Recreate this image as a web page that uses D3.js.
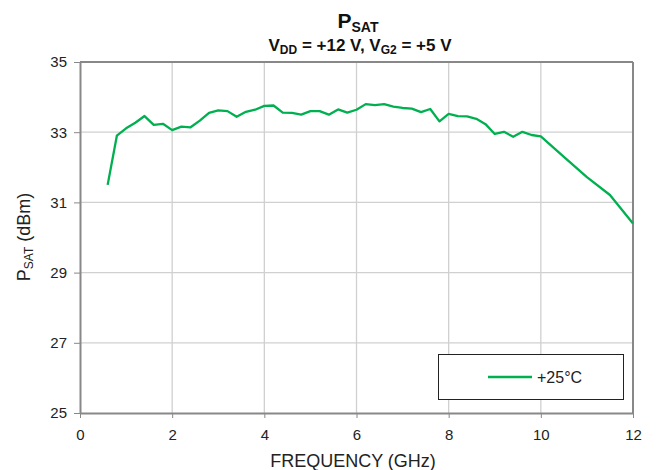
<!DOCTYPE html>
<html><head><meta charset="utf-8">
<script src="https://cdn.jsdelivr.net/npm/d3@7"></script>
<style>body{margin:0;background:#fff;}svg{display:block;font-family:Arial,"Liberation Sans",sans-serif;}</style>
</head><body><svg id="c" width="657" height="470"></svg>
<script>
const freq = [0.6,0.8,1.0,1.2,1.4,1.6,1.8,2.0,2.2,2.4,2.6,2.8,3.0,3.2,3.4,3.6,3.8,4.0,4.2,4.4,4.6,4.8,5.0,5.2,5.4,5.6,5.8,6.0,6.2,6.4,6.6,6.8,7.0,7.2,7.4,7.6,7.8,8.0,8.2,8.4,8.6,8.8,9.0,9.2,9.4,9.6,9.8,10.0,10.5,11.0,11.5,12.0];
const psat = [31.5,32.9,33.11,33.27,33.46,33.21,33.24,33.06,33.16,33.14,33.33,33.55,33.62,33.60,33.44,33.58,33.64,33.75,33.76,33.56,33.55,33.50,33.60,33.60,33.50,33.65,33.56,33.64,33.80,33.77,33.80,33.73,33.69,33.67,33.57,33.66,33.31,33.52,33.46,33.45,33.38,33.23,32.95,33.01,32.87,33.01,32.92,32.88,32.30,31.72,31.21,30.40];
const xTicks = [0,2,4,6,8,10,12];
const yTicks = [25,27,29,31,33,35];
const seriesName = "+25°C";

const svg = d3.select("#c");
const m = {l:80, r:633, t:62, b:413};
const x = d3.scaleLinear().domain([0,12]).range([m.l, m.r]);
const y = d3.scaleLinear().domain([25,35]).range([m.b, m.t]);

// grid
svg.append("g").selectAll("line").data(xTicks.slice(1,-1)).join("line")
  .attr("x1",d=>x(d)).attr("x2",d=>x(d)).attr("y1",m.t).attr("y2",m.b)
  .attr("stroke","#d0d0d0").attr("stroke-width",1.3);
svg.append("g").selectAll("line").data(yTicks.slice(1,-1)).join("line")
  .attr("y1",d=>y(d)).attr("y2",d=>y(d)).attr("x1",m.l).attr("x2",m.r)
  .attr("stroke","#d0d0d0").attr("stroke-width",1.3);

// axes
const xa = svg.append("g").attr("transform",`translate(0,${m.b})`)
  .call(d3.axisBottom(x).tickValues(xTicks).tickSize(5).tickSizeOuter(0).tickPadding(11));
const ya = svg.append("g").attr("transform",`translate(${m.l},0)`)
  .call(d3.axisLeft(y).tickValues(yTicks).tickSize(6).tickSizeOuter(0).tickPadding(7));
[xa,ya].forEach(a=>{
  a.selectAll("path").attr("stroke","#888").attr("stroke-width",2);
  a.selectAll("line").attr("stroke","#888").attr("stroke-width",1);
  a.selectAll("text").attr("font-size",15).attr("fill","#222").attr("font-family","Arial,'Liberation Sans',sans-serif");
});
// top and right border
svg.append("line").attr("x1",m.l).attr("x2",m.r).attr("y1",m.t).attr("y2",m.t).attr("stroke","#888").attr("stroke-width",2);
svg.append("line").attr("x1",m.r).attr("x2",m.r).attr("y1",m.t).attr("y2",m.b).attr("stroke","#888").attr("stroke-width",2);

// line
svg.append("path").datum(freq.map((f,i)=>[f,psat[i]]))
  .attr("fill","none").attr("stroke","#00b050").attr("stroke-width",2.3).attr("stroke-linejoin","round")
  .attr("d", d3.line().x(d=>x(d[0])).y(d=>y(d[1])));

// titles
const t1 = svg.append("text").attr("x",358).attr("y",28).attr("text-anchor","middle").attr("font-weight","bold").attr("font-size",21).attr("fill","#111");
t1.append("tspan").text("P");
t1.append("tspan").attr("font-size",14).attr("dy",4).text("SAT");
const t2 = svg.append("text").attr("x",360).attr("y",51).attr("text-anchor","middle").attr("font-weight","bold").attr("font-size",17).attr("fill","#111");
t2.append("tspan").text("V");
t2.append("tspan").attr("font-size",12).attr("dy",3).text("DD");
t2.append("tspan").attr("dy",-3).text(" = +12 V, V");
t2.append("tspan").attr("font-size",12).attr("dy",3).text("G2");
t2.append("tspan").attr("dy",-3).text(" = +5 V");

svg.append("text").attr("x",353).attr("y",467).attr("text-anchor","middle").attr("font-size",18).attr("fill","#222").text("FREQUENCY (GHz)");
const yt = svg.append("text").attr("transform","translate(30,237) rotate(-90)").attr("text-anchor","middle").attr("font-size",18).attr("fill","#222");
yt.append("tspan").text("P");
yt.append("tspan").attr("font-size",12).attr("dy",3).text("SAT");
yt.append("tspan").attr("dy",-3).text(" (dBm)");

// legend
svg.append("rect").attr("x",438.5).attr("y",354.5).attr("width",185).attr("height",45).attr("fill","#fff").attr("stroke","#222").attr("stroke-width",1);
svg.append("line").attr("x1",488).attr("x2",532).attr("y1",377).attr("y2",377).attr("stroke","#00b050").attr("stroke-width",2.3);
svg.append("text").attr("x",537).attr("y",383).attr("font-size",16).attr("fill","#222").text(seriesName);
</script></body></html>
